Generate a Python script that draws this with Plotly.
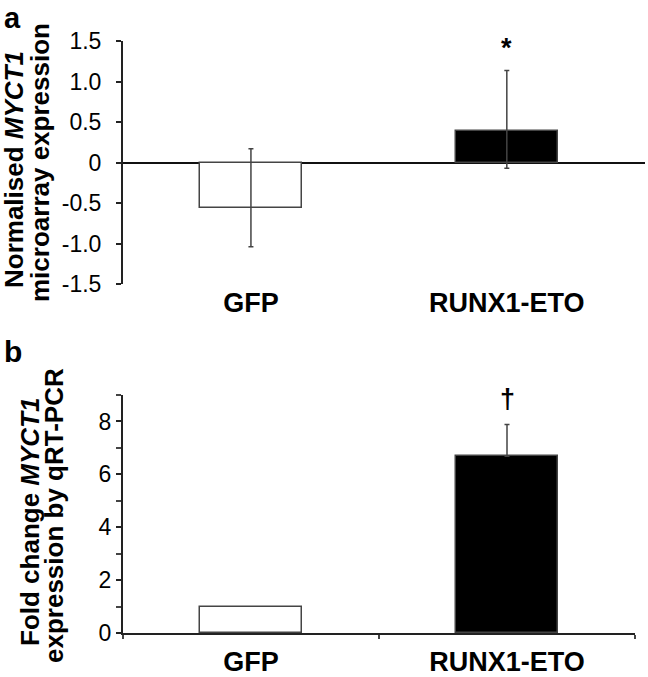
import plotly.graph_objects as go

categories = ["GFP", "RUNX1-ETO"]

# Panel a: normalised microarray expression
a_values = [-0.556, 0.395]
a_err_plus = [0.726, 0.74]
a_err_minus = [0.484, 0.465]
a_tickvals = [-1.5, -1.0, -0.5, 0, 0.5, 1.0, 1.5]
a_ticktext = ["-1.5", "-1.0", "-0.5", "0", "0.5", "1.0", "1.5"]

# Panel b: fold change by qRT-PCR (error bar only shown for RUNX1-ETO)
b_values = [1.0, 6.68]
b_err_plus_runx = 1.2
b_tickvals = [0, 2, 4, 6, 8]

bar_fill = ["white", "black"]
FONT = "Liberation Sans, Arial, sans-serif"

fig = go.Figure()

fig.add_trace(go.Bar(
    x=categories, y=a_values, xaxis="x", yaxis="y", width=0.4,
    marker=dict(color=bar_fill, line=dict(color="#444", width=1.5)),
    error_y=dict(type="data", symmetric=False, array=a_err_plus, arrayminus=a_err_minus,
                 color="#444", thickness=1.5, width=2.5),
    showlegend=False,
))
fig.add_trace(go.Bar(
    x=categories[:1], y=b_values[:1], xaxis="x2", yaxis="y2", width=0.4,
    marker=dict(color=bar_fill[0], line=dict(color="#444", width=1.5)),
    showlegend=False,
))
fig.add_trace(go.Bar(
    x=categories[1:], y=b_values[1:], xaxis="x2", yaxis="y2", width=0.4,
    marker=dict(color=bar_fill[1], line=dict(color="#444", width=1.5)),
    error_y=dict(type="data", symmetric=False, array=[b_err_plus_runx], arrayminus=[0],
                 color="#444", thickness=1.5, width=2.5),
    showlegend=False,
))

W, H = 648, 677
def fx(px): return px / W
def fy(py): return 1 - py / H

tickfont = dict(family=FONT, size=23, color="black")
catfont = dict(family=FONT, size=27, color="black", weight="bold")

fig.update_layout(
    width=W, height=H,
    margin=dict(l=0, r=0, t=0, b=0, autoexpand=False),
    paper_bgcolor="white", plot_bgcolor="white",
    font=dict(family=FONT, color="black"),
    barmode="overlay",
    bargap=0,
    xaxis=dict(domain=[fx(123), fx(645)], anchor="y", range=[-0.5, 1.54],
               categoryorder="array", categoryarray=categories,
               showline=False, showgrid=False, zeroline=False, ticks="",
               tickfont=catfont, ticklabelstandoff=0, automargin=False),
    yaxis=dict(domain=[fy(284), fy(41)], anchor="x", range=[-1.5, 1.5],
               tickvals=a_tickvals, ticktext=a_ticktext,
               showline=True, linecolor="#222", linewidth=2,
               ticks="outside", ticklen=5, tickwidth=2, tickcolor="#222",
               showgrid=False, zeroline=True, zerolinecolor="#111", zerolinewidth=2,
               tickfont=tickfont, ticklabelstandoff=10, automargin=False),
    xaxis2=dict(domain=[fx(123), fx(635)], anchor="y2", range=[-0.5, 1.5],
                categoryorder="array", categoryarray=categories,
                showline=True, linecolor="#222", linewidth=2,
                ticks="outside", tickson="boundaries", ticklen=4, tickwidth=1.5, tickcolor="#444",
                showgrid=False, zeroline=False,
                tickfont=catfont, ticklabelstandoff=4, automargin=False),
    yaxis2=dict(domain=[fy(633), fy(395)], anchor="x2", range=[0, 9],
                tickvals=b_tickvals,
                showline=True, linecolor="#222", linewidth=2,
                ticks="outside", ticklen=5, tickwidth=2, tickcolor="#222",
                minor=dict(dtick=1, tick0=0, ticks="outside", ticklen=5, tickwidth=1.5, tickcolor="#444"),
                showgrid=False, zeroline=False,
                tickfont=tickfont, ticklabelstandoff=0, automargin=False),
)

title_font = dict(family=FONT, size=26, color="black", weight="bold")
# y-axis titles (two lines each, drawn as rotated annotations)
fig.add_annotation(text="Normalised <i>MYCT1</i>", xref="paper", yref="paper",
                   x=fx(14), y=fy(170), textangle=-90, showarrow=False,
                   xanchor="center", yanchor="middle", font=title_font)
fig.add_annotation(text="microarray expression", xref="paper", yref="paper",
                   x=fx(40), y=fy(163), textangle=-90, showarrow=False,
                   xanchor="center", yanchor="middle", font=title_font)
fig.add_annotation(text="Fold change <i>MYCT1</i>", xref="paper", yref="paper",
                   x=fx(30), y=fy(522), textangle=-90, showarrow=False,
                   xanchor="center", yanchor="middle", font=title_font)
fig.add_annotation(text="expression by qRT-PCR", xref="paper", yref="paper",
                   x=fx(54), y=fy(516), textangle=-90, showarrow=False,
                   xanchor="center", yanchor="middle", font=title_font)

# panel letters
fig.add_annotation(text="a", xref="paper", yref="paper", x=fx(2), y=fy(0),
                   xanchor="left", yanchor="top", showarrow=False,
                   font=dict(family=FONT, size=29, color="black", weight="bold"))
fig.add_annotation(text="b", xref="paper", yref="paper", x=fx(2), y=fy(352),
                   xanchor="left", yanchor="middle", showarrow=False,
                   font=dict(family=FONT, size=30, color="black", weight="bold"))

# significance markers
fig.add_annotation(text="*", xref="x", yref="y", x=categories[1], y=1.20,
                   showarrow=False, yanchor="bottom",
                   font=dict(family=FONT, size=27, color="black", weight="bold"))
fig.add_annotation(text="†", xref="x2", yref="y2", x=categories[1], y=8.2,
                   showarrow=False, yanchor="bottom",
                   font=dict(family=FONT, size=27, color="black", weight="bold"))

# remove the default 8px page margin so the figure fills the window exactly
fig.write_html("out.html", config={"displayModeBar": False},
               post_script="document.body.style.margin='0';")
